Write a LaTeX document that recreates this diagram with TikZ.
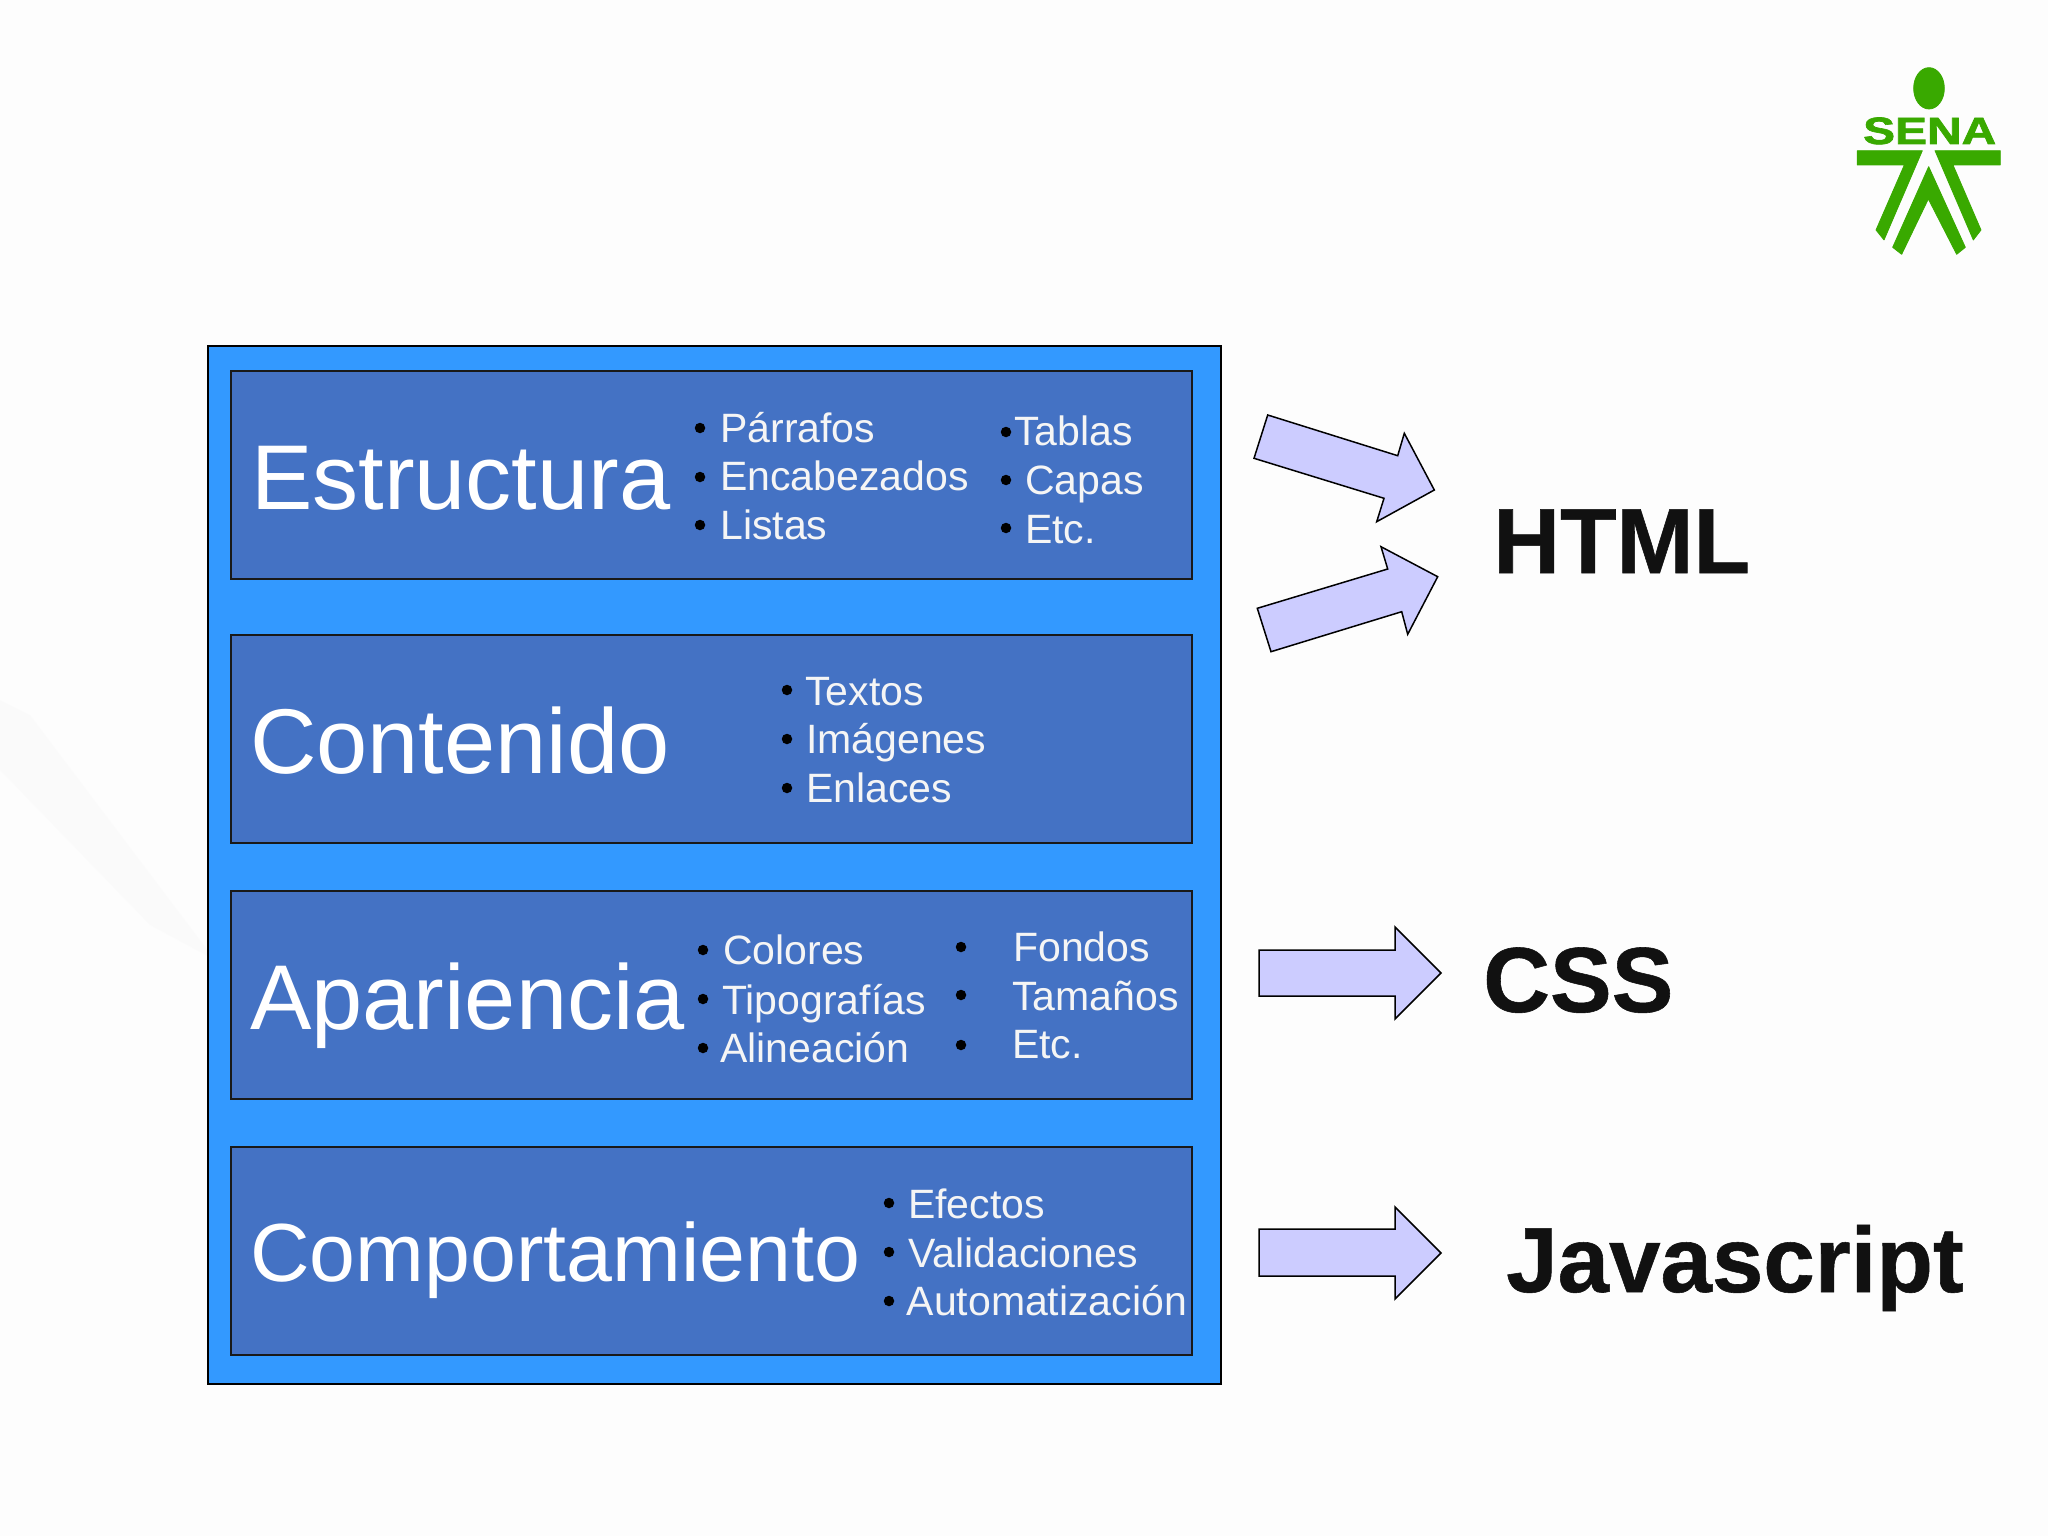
\documentclass[tikz,border=0pt]{standalone}
\usepackage{fontspec}
\setmainfont{Liberation Sans}
\newfontfamily\senafont[FakeBold=1.6]{Liberation Sans Bold}
\newfontfamily\langfont[FakeBold=0.6]{Liberation Sans Bold}
\definecolor{outerblue}{HTML}{3399FF}
\definecolor{innerblue}{HTML}{4472C4}
\definecolor{arrowfill}{HTML}{CCCCFF}
\definecolor{langblack}{HTML}{111111}
\definecolor{senagreen}{HTML}{39A900}
\definecolor{bgc}{HTML}{FDFDFD}
\tikzset{
  outerbox/.style={draw=black,line width=1.5pt,fill=outerblue},
  innerbox/.style={draw=black!90,line width=1.5pt,fill=innerblue},
  bigt/.style={anchor=base west,inner sep=0pt,text=white,font=\fontsize{92}{92}\selectfont},
  bigtb/.style={bigt,font=\fontsize{82.5}{82.5}\selectfont},
  smallt/.style={anchor=base west,inner sep=0pt,text=white!96!black,font=\fontsize{41}{41}\selectfont},
  lang/.style={anchor=base west,inner sep=0pt,text=langblack,font=\fontsize{92.5}{92.5}\langfont},
  dot/.style={circle,fill=black,inner sep=0pt,minimum size=10.5pt},
  arrowshape/.style={draw=black,line width=1.5pt,fill=arrowfill,line join=miter},
  logo/.style={fill=senagreen,draw=senagreen,line width=0.8pt,line join=round}
}
\newcommand{\tx}[5]{\node[#1] (#2) at (#3,#4) {#5};}
\newcommand{\dt}[3]{\node[dot] (#1) at (#2,#3) {};}
\begin{document}
\begin{tikzpicture}[x=1pt,y=-1pt]
\useasboundingbox (0,0) rectangle (2048,1536);
\fill[bgc] (0,0) rectangle (2048,1536);
\fill[white!97!black,opacity=.35] (0,700) -- (30,715) -- (215,960) -- (150,925) -- (0,770) -- cycle;
% boxes
\node[outerbox,minimum width=1013pt,minimum height=1038pt,inner sep=0pt,outer sep=0pt] (outer) at (714.5,865) {};
\node[innerbox,minimum width=961pt,minimum height=208pt,inner sep=0pt] (r1) at (711.5,475) {};
\node[innerbox,minimum width=961pt,minimum height=208pt,inner sep=0pt] (r2) at (711.5,739) {};
\node[innerbox,minimum width=961pt,minimum height=208pt,inner sep=0pt] (r3) at (711.5,995) {};
\node[innerbox,minimum width=961pt,minimum height=208pt,inner sep=0pt] (r4) at (711.5,1251) {};
% titles
\tx{bigt}{t1}{251}{509}{Estructura}
\tx{bigt}{t2}{250}{773}{Contenido}
\tx{bigt}{t3}{250}{1029}{Apariencia}
\tx{bigtb}{t4}{250}{1281}{Comportamiento}
% row 1
\dt{b11}{700}{428}\dt{b12}{700}{477}\dt{b13}{700}{525}
\tx{smallt}{a1}{720}{442}{Párrafos}
\tx{smallt}{a2}{720}{490}{Encabezados}
\tx{smallt}{a3}{720}{539}{Listas}
\dt{b14}{1006}{432}\dt{b15}{1006}{480}\dt{b16}{1006}{528}
\tx{smallt}{a4}{1014}{445}{Tablas}
\tx{smallt}{a5}{1025}{494}{Capas}
\tx{smallt}{a6}{1025}{543}{Etc.}
% row 2
\dt{b21}{787}{690}\dt{b22}{787}{739}\dt{b23}{787}{788}
\tx{smallt}{c1}{805}{705}{Textos}
\tx{smallt}{c2}{806}{753}{Imágenes}
\tx{smallt}{c3}{806}{802}{Enlaces}
% row 3
\dt{b31}{703}{950}\dt{b32}{703}{999}\dt{b33}{703}{1048}
\tx{smallt}{d1}{723}{964}{Colores}
\tx{smallt}{d2}{722}{1014}{Tipografías}
\tx{smallt}{d3}{720}{1062}{Alineación}
\dt{b34}{961}{947}\dt{b35}{961}{995}\dt{b36}{961}{1045}
\tx{smallt}{d4}{1013}{961}{Fondos}
\tx{smallt}{d5}{1012}{1010}{Tamaños}
\tx{smallt}{d6}{1012}{1058}{Etc.}
% row 4
\dt{b41}{889}{1203}\dt{b42}{889}{1252}\dt{b43}{889}{1301}
\tx{smallt}{e1}{908}{1218}{Efectos}
\tx{smallt}{e2}{908}{1267}{Validaciones}
\tx{smallt}{e3}{906.5}{1315}{Automatización}
% languages
\tx{lang}{html}{1493}{573}{HTML}
\tx{lang}{css}{1483}{1012}{CSS}
\tx{lang}{js}{1506}{1292}{Javascript}
% arrows
\draw[arrowshape] (1267.7,415) -- (1397.7,455.7) -- (1404.3,433.3) -- (1434.3,490) -- (1376.7,521.7) -- (1384,498.3) -- (1254,458.3) -- cycle;
\draw[arrowshape] (1257.3,608.3) -- (1387.7,569) -- (1381,546.7) -- (1437.7,576.7) -- (1407.7,634.3) -- (1401.7,611.7) -- (1271,651.7) -- cycle;
\draw[arrowshape] (1259,950) -- (1395,950) -- (1395,927) -- (1441,973) -- (1395,1019) -- (1395,996) -- (1259,996) -- cycle;
\draw[arrowshape] (1259,1229) -- (1395,1229) -- (1395,1207) -- (1441,1253) -- (1395,1299) -- (1395,1276) -- (1259,1276) -- cycle;
% logo
\begin{scope}[shift={(1820,50)},x=0.3333pt,y=-0.3333pt]
\fill[logo] (327,115) ellipse [x radius=46,y radius=62];
\filldraw[logo] (112,302) -- (307,302) -- (192,570) -- (168,540) -- (253,345) -- (112,345) -- cycle;
\filldraw[logo] (345,302) -- (541,302) -- (541,345) -- (399,345) -- (483,540) -- (460,570) -- cycle;
\filldraw[logo] (326,350) -- (436,592) -- (410,613) -- (325,447) -- (245,613) -- (218,592) -- cycle;
\node[anchor=base,inner sep=0pt,text=senagreen,font=\fontsize{38}{38}\senafont,xscale=1.26] (sena) at (329,282) {SENA};
\end{scope}
\end{tikzpicture}
\end{document}
